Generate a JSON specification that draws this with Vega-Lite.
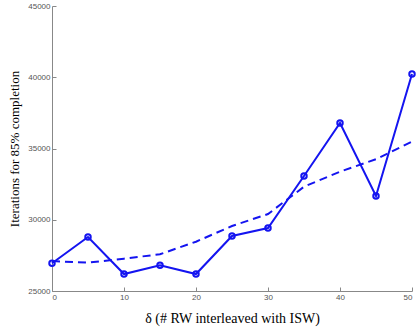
{
  "$schema": "https://vega.github.io/schema/vega-lite/v6.json",
  "autosize": {"type": "none"},
  "padding": {"left": 52, "top": 6, "right": 4, "bottom": 40},
  "width": 360,
  "height": 285,
  "background": "white",
  "config": {"view": {"stroke": null}},
  "datasets": {
    "measured": [
      {"delta": 0, "iters": 26950},
      {"delta": 5, "iters": 28790},
      {"delta": 10, "iters": 26190},
      {"delta": 15, "iters": 26800},
      {"delta": 20, "iters": 26190},
      {"delta": 25, "iters": 28860},
      {"delta": 30, "iters": 29420},
      {"delta": 35, "iters": 33070},
      {"delta": 40, "iters": 36790},
      {"delta": 45, "iters": 31670},
      {"delta": 50, "iters": 40230}
    ],
    "trend": [
      {"delta": 0, "iters": 27100},
      {"delta": 5, "iters": 26990},
      {"delta": 10, "iters": 27270},
      {"delta": 15, "iters": 27580},
      {"delta": 20, "iters": 28460},
      {"delta": 25, "iters": 29560},
      {"delta": 30, "iters": 30400},
      {"delta": 35, "iters": 32320},
      {"delta": 40, "iters": 33370},
      {"delta": 45, "iters": 34250},
      {"delta": 50, "iters": 35480}
    ]
  },
  "encoding": {
    "x": {
      "field": "delta", "type": "quantitative",
      "scale": {"domain": [0, 50], "nice": false},
      "axis": {
        "values": [0, 10, 20, 30, 40, 50], "grid": false,
        "title": "δ  (# RW interleaved with ISW)",
        "titleFont": "Liberation Serif", "titleFontSize": 14, "titleFontWeight": "normal",
        "titleColor": "#000", "titlePadding": 10,
        "labelFont": "Liberation Sans", "labelFontSize": 8, "labelColor": "#555",
        "domainColor": "#888", "tickColor": "#888", "tickSize": -4, "labelPadding": 6
      }
    },
    "y": {
      "field": "iters", "type": "quantitative",
      "scale": {"domain": [25000, 45000], "nice": false},
      "axis": {
        "values": [25000, 30000, 35000, 40000, 45000], "grid": false, "format": "d",
        "title": "Iterations for 85% completion",
        "titleFont": "Liberation Serif", "titleFontSize": 13, "titleFontWeight": "normal",
        "titleColor": "#000", "titlePadding": 6,
        "labelFont": "Liberation Sans", "labelFontSize": 8, "labelColor": "#555",
        "domainColor": "#888", "tickColor": "#888", "tickSize": -4, "labelPadding": 6
      }
    }
  },
  "layer": [
    {
      "data": {"name": "trend"},
      "mark": {"type": "line", "color": "#1414f0", "strokeWidth": 2, "strokeDash": [8, 5]}
    },
    {
      "data": {"name": "measured"},
      "mark": {"type": "line", "color": "#1414f0", "strokeWidth": 2}
    },
    {
      "data": {"name": "measured"},
      "mark": {"type": "point", "shape": "circle", "filled": false, "color": "#1414f0", "strokeWidth": 2, "size": 30, "opacity": 1}
    }
  ]
}
